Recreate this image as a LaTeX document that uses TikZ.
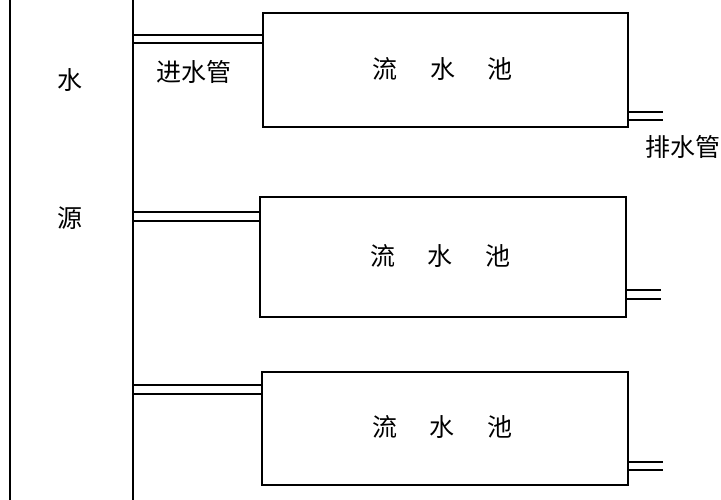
\documentclass[tikz,border=0pt]{standalone}
\usepackage{fontspec}
\newfontfamily\cjk{Noto Sans CJK SC}
\begin{document}
\begin{tikzpicture}[x=1pt,y=-1pt,line width=2pt,
  lbl/.style={font=\cjk\fontsize{25}{25}\selectfont,inner sep=0pt}]
\useasboundingbox (0,0) rectangle (721,500);
\coordinate (L1) at (10,0); \coordinate (L2) at (10,500);
\coordinate (S1) at (133,0); \coordinate (S2) at (133,500);
\draw (L1) -- (L2);
\draw (S1) -- (S2);
\node[lbl] (w) at (70,80) {水};
\node[lbl] (y) at (70,218) {源};
\node[lbl] (jin) at (194,72) {进水管};
\node[lbl,anchor=east] (pai) at (721,147) {排水管};
\foreach \i/\xa/\xb/\ya/\yb/\pa/\pb/\qa/\qb in {1/263/628/13/127/35/43/112/120, 2/260/626/197/317/212/221/290/299, 3/262/628/372/485/385/394/462/470}{
  \draw (\xa,\ya) rectangle (\xb,\yb);
  \node[lbl] (p\i) at ({(\xa+\xb)/2-3},{(\ya+\yb)/2-1}) {流\hspace{1.3em}水\hspace{1.3em}池};
  \draw[line width=1.6pt] (133,\pa) -- (\xa,\pa) (133,\pb) -- (\xa,\pb);
  \draw[line width=1.6pt] (\xb,\qa) -- (\xb+35,\qa) (\xb,\qb) -- (\xb+35,\qb);
}
\end{tikzpicture}
\end{document}
